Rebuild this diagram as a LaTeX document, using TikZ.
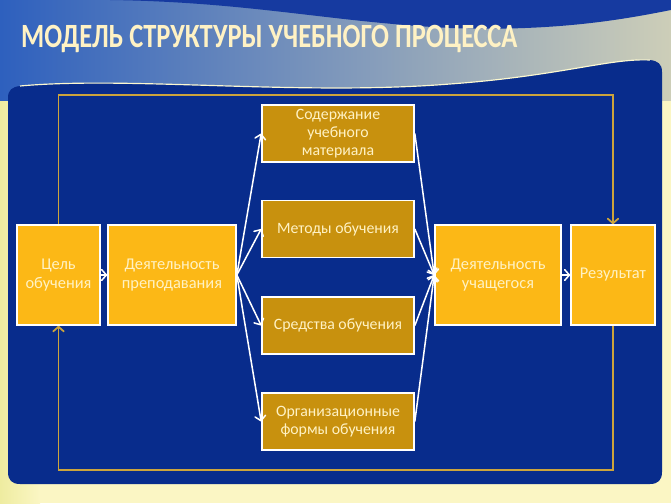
\documentclass[tikz,border=0pt]{standalone}
\usepackage{fontspec}
\setmainfont{Carlito}
\usetikzlibrary{arrows.meta}

\definecolor{pagebg}{RGB}{251,246,196}
\definecolor{pageleft}{RGB}{238,236,160}
\definecolor{titleL}{RGB}{46,96,190}
\definecolor{titleR}{RGB}{205,206,184}
\definecolor{wavetop}{RGB}{22,58,160}
\definecolor{panelblue}{RGB}{8,44,140}
\definecolor{brightgold}{RGB}{252,184,22}
\definecolor{darkgold}{RGB}{200,145,14}
\definecolor{creamtext}{RGB}{255,242,196}
\definecolor{loopgold}{RGB}{204,164,60}

\begin{document}
\begin{tikzpicture}[x=0.03cm, y=-0.03cm, >={Straight Barb[round, length=4pt, width=9pt]},
    bigbox/.style={draw=white, line width=1.4pt, fill=brightgold, text=creamtext, align=center,
        minimum height=3cm, inner sep=2pt, font=\fontsize{14}{16}\selectfont},
    midbox/.style={draw=white, line width=1.4pt, fill=darkgold, text=creamtext, align=center,
        minimum width=4.56cm, minimum height=1.72cm, inner sep=1pt, font=\fontsize{13.5}{15.5}\selectfont},
    flow/.style={draw=white, line width=1.3pt, ->},
    loopline/.style={draw=loopgold, line width=1.5pt, ->}]
    \useasboundingbox (0,0) rectangle (671,503);

    % Background and title band
    \fill[pagebg] (0,0) rectangle (671,503);
    \shade[left color=pageleft, right color=pagebg] (0,90) rectangle (40,503);
    \shade[left color=titleL, right color=titleR] (0,0) rectangle (671,100);
    \fill[wavetop] (110,0) .. controls (250,2) and (330,22) .. (450,28)
        .. controls (560,32) and (630,18) .. (671,10) -- (671,0) -- cycle;

    % Blue panel
    \fill[panelblue] (8,472) -- (8,98) .. controls (8,90) and (12,87) .. (20,86)
        .. controls (130,76) and (300,96) .. (450,84)
        .. controls (560,76) and (610,58) .. (650,60)
        .. controls (658,61) and (662,64) .. (662,72) -- (662,472)
        .. controls (662,480) and (658,484) .. (650,484) -- (20,484)
        .. controls (12,484) and (8,480) .. (8,472) -- cycle;
    \draw[pagebg!80!white, line width=1pt] (20,86) .. controls (130,76) and (300,96) .. (450,84)
        .. controls (560,76) and (610,58) .. (650,60);

    % Title
    \node[anchor=west, text=creamtext, font=\fontsize{29}{30}\bfseries\selectfont] (title) at (17,39)
        {\scalebox{0.78}[1]{МОДЕЛЬ СТРУКТУРЫ УЧЕБНОГО ПРОЦЕССА}};

    % Boxes
    \node[bigbox, minimum width=2.49cm] (goal) at (58.5,275) {Цель\\обучения};
    \node[bigbox, minimum width=3.84cm] (teach) at (172,275) {Деятельность\\преподавания};
    \node[midbox] (content) at (338,133.5) {Содержание\\учебного\\материала};
    \node[midbox] (methods) at (338,229) {Методы обучения};
    \node[midbox] (means) at (338,325.5) {Средства обучения};
    \node[midbox] (forms) at (338,421.5) {Организационные\\формы обучения};
    \node[bigbox, minimum width=3.78cm] (learn) at (498,275) {Деятельность\\учащегося};
    \node[bigbox, minimum width=2.52cm] (result) at (613,275) {Результат};

    % Corner points of the loop
    \coordinate (topl) at (58.5,95);
    \coordinate (botl) at (58.5,470);

    % Loop
    \draw[loopline] (goal.north) -- (topl) -| (result.north);
    \draw[loopline] (result.south) |- (botl) -- (goal.south);

    % Flow
    \draw[flow] (goal) -- (teach);
    \draw[flow] (learn) -- (result);
    \foreach \n in {content, methods, means, forms} {
        \draw[flow] (teach.east) -- (\n.west);
        \draw[flow] (\n.east) -- (learn.west);
    }
\end{tikzpicture}
\end{document}
